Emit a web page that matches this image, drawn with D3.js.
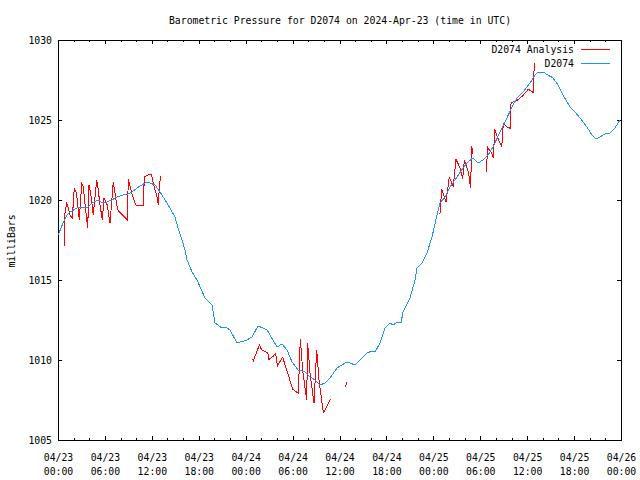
<!DOCTYPE html>
<html><head><meta charset="utf-8">
<script src="https://cdn.jsdelivr.net/npm/d3@7"></script>
<style>body{margin:0;background:#fff}</style>
</head><body>
<svg id="c" width="640" height="480"></svg>
<script>
const startDate = "2024-04-23T00:00:00Z";
const titleText = "Barometric Pressure for D2074 on 2024-Apr-23 (time in UTC)";
const yLabel = "milliBars";
const seriesNames = ["D2074 Analysis", "D2074"];
const yTicks = [1005, 1010, 1015, 1020, 1025, 1030];

// D2074 (hours since start, pressure)
const blueHours = [0,0.13,0.64,1.15,1.53,2.43,3.20,3.84,4.35,5.12,5.75,6.27,6.91,7.54,8.31,8.95,9.46,10.10,10.74,11.38,11.77,12.41,13.05,13.69,14.32,14.96,15.35,15.86,16.24,16.50,17.14,17.78,18.80,19.69,20.08,20.97,21.36,22.0,22.89,24.17,24.81,25.58,26.73,27.11,28.01,28.65,29.29,29.93,30.69,31.59,32.23,32.87,33.51,34.15,34.79,35.68,36.96,37.98,38.62,39.52,40.16,40.54,41.18,41.82,42.46,42.84,43.48,43.87,44.12,45.02,45.66,45.91,46.55,47.19,47.83,48.47,48.85,49.49,50.13,51.03,51.80,52.43,53.07,53.71,54.35,54.99,55.63,56.53,57.17,58.06,58.70,59.47,60.36,61.0,61.39,62.03,62.66,63.30,63.94,64.58,65.48,66.12,66.76,67.65,68.29,68.80,69.31,69.95,70.59,71.23,71.87];
const bluePressure = [1017.81,1017.94,1018.56,1019.06,1019.25,1019.5,1019.56,1019.56,1019.81,1020.0,1019.81,1019.88,1020.0,1020.19,1020.31,1020.38,1020.5,1020.75,1020.94,1021.13,1021.06,1020.94,1020.5,1020.0,1019.5,1018.94,1018.25,1017.5,1016.88,1016.25,1015.5,1015.0,1013.88,1013.44,1012.31,1012.0,1012.06,1011.88,1011.06,1011.25,1011.44,1012.13,1011.88,1011.56,1010.81,1011.0,1010.63,1009.88,1009.38,1009.25,1008.94,1008.75,1008.44,1008.56,1008.88,1009.5,1009.88,1009.69,1010.0,1010.44,1010.56,1010.5,1011.06,1012.0,1012.31,1012.19,1012.38,1012.31,1013.0,1013.88,1015.0,1015.75,1016.06,1016.69,1017.69,1019.06,1019.81,1020.19,1020.81,1021.44,1022.0,1022.38,1022.63,1022.31,1022.5,1022.81,1023.31,1024.25,1024.88,1025.81,1026.38,1026.75,1027.31,1027.81,1028.0,1028.0,1027.81,1027.63,1027.19,1026.56,1025.81,1025.5,1025.13,1024.56,1024.06,1023.81,1023.94,1024.13,1024.19,1024.5,1025.0];

// D2074 Analysis (null = gap in data)
const redHours = [0.81,0.90,1.11,1.32,1.53,1.83,2.08,2.30,2.47,2.72,3.03,3.24,3.45,3.80,3.96,4.18,4.51,4.95,5.15,5.37,5.67,5.88,6.30,6.65,7.07,7.42,7.63,8.86,8.99,9.43,9.94,10.91,11.04,11.77,11.98,12.19,12.70,12.83,12.96,13.13,
  null,
  24.77,24.98,25.75,26.05,26.47,26.82,26.98,27.54,27.84,28.05,28.73,29.25,30.01,30.73,30.99,31.29,31.80,31.93,32.23,32.74,33.08,33.38,33.93,34.36,34.87,
  null,
  36.70,37.00,
  null,
  48.85,49.07,49.30,49.62,50.04,50.30,50.55,50.90,51.16,51.41,51.76,51.96,52.22,52.50,52.76,52.91,53.07,
  null,
  54.83,54.90,55.16,55.47,55.67,55.85,56.11,56.44,56.75,56.95,57.39,57.81,57.94,58.66,59.09,59.51,60.15,60.79,60.91];
const redPressure = [1017.14,1019.27,1019.79,1019.48,1019.06,1018.86,1020.73,1020.52,1020.00,1018.75,1021.04,1020.83,1019.79,1018.23,1020.94,1020.42,1019.06,1021.25,1020.63,1019.69,1018.75,1020.11,1019.69,1018.54,1021.14,1020.00,1019.38,1018.75,1021.29,1020.42,1019.69,1019.63,1021.46,1021.63,1021.56,1021.04,1020.11,1019.69,1020.83,1021.50,
  null,
  1010.10,1009.96,1010.94,1010.63,1010.52,1010.46,1010.04,1010.25,1010.42,1009.63,1010.17,1009.38,1008.17,1007.92,1011.29,1009.38,1007.50,1011.04,1009.17,1007.29,1010.63,1008.75,1006.71,1007.08,1007.56,
  null,
  1008.29,1008.65,
  null,
  1019.13,1020.67,1020.38,1019.88,1021.42,1021.14,1020.83,1022.54,1022.28,1022.00,1021.33,1022.48,1022.11,1021.75,1020.73,1023.36,1022.88,
  null,
  1021.77,1023.33,1023.13,1022.92,1022.61,1024.42,1024.06,1023.64,1023.33,1024.79,1024.58,1024.48,1026.08,1026.21,1026.36,1026.56,1026.92,1026.71,1028.58];

const colors = {analysis: "#ff0000", obs: "#1e90ff"};
const font = "'DejaVu Sans Mono', 'Liberation Mono', monospace";

const t0 = new Date(startDate);
const toDate = h => new Date(t0.getTime() + h * 3600e3);

const svg = d3.select("#c");
const L = 58, R = 621, T = 40, B = 440;
const x = d3.scaleUtc().domain([t0, toDate(72)]).range([L, R]);
const y = d3.scaleLinear().domain([1005, 1030]).range([B, T]);

const majorX = x.ticks(d3.utcHour.every(6));
const minorX = x.ticks(d3.utcHour.every(2)).filter(d => d.getUTCHours() % 6 !== 0);

function styleAxis(g) {
  g.select(".domain").remove();
  g.selectAll("line").attr("stroke", "#000").attr("shape-rendering", "crispEdges");
  g.attr("font-family", font).attr("font-size", 9.8);
  g.selectAll("text").attr("fill", "#000");
}

// bottom axis
const gb = svg.append("g").attr("transform", `translate(0,${B})`)
  .call(d3.axisBottom(x).tickValues(majorX).tickSizeInner(-4).tickSizeOuter(0).tickPadding(0)
    .tickFormat(d3.utcFormat("%m/%d|%H:%M")));
styleAxis(gb);
gb.selectAll("text").each(function() {
  const parts = d3.select(this).text().split("|");
  const t = d3.select(this).text(null).attr("dy", null).attr("y", null);
  t.append("tspan").attr("x", 0).attr("y", 21).text(parts[0]);
  t.append("tspan").attr("x", 0).attr("y", 35).text(parts[1]);
});
const gbm = svg.append("g").attr("transform", `translate(0,${B})`)
  .call(d3.axisBottom(x).tickValues(minorX).tickSizeInner(-2).tickSizeOuter(0).tickFormat(""));
styleAxis(gbm);

// top axis
const gt = svg.append("g").attr("transform", `translate(0,${T})`)
  .call(d3.axisTop(x).tickValues(majorX).tickSizeInner(-4).tickSizeOuter(0).tickFormat(""));
styleAxis(gt);
const gtm = svg.append("g").attr("transform", `translate(0,${T})`)
  .call(d3.axisTop(x).tickValues(minorX).tickSizeInner(-2).tickSizeOuter(0).tickFormat(""));
styleAxis(gtm);

// left axis
const gl = svg.append("g").attr("transform", `translate(${L},0)`)
  .call(d3.axisLeft(y).tickValues(yTicks).tickSizeInner(-4).tickSizeOuter(0).tickPadding(6).tickFormat(d3.format("d")));
styleAxis(gl);
// right axis
const gr = svg.append("g").attr("transform", `translate(${R},0)`)
  .call(d3.axisRight(y).tickValues(yTicks).tickSizeInner(-4).tickSizeOuter(0).tickFormat(""));
styleAxis(gr);

// frame
svg.append("rect").attr("x", L + 0.5).attr("y", T + 0.5).attr("width", R - L).attr("height", B - T)
  .attr("fill", "none").attr("stroke", "#000").attr("shape-rendering", "crispEdges");

// clip
svg.append("clipPath").attr("id", "plot").append("rect")
  .attr("x", L).attr("y", T).attr("width", R - L + 1).attr("height", B - T + 1);

const line = d3.line()
  .defined(d => d.p != null && d.h != null)
  .x(d => x(toDate(d.h)))
  .y(d => y(d.p));

const blueData = blueHours.map((h, i) => ({h, p: bluePressure[i]}));
const redData = redHours.map((h, i) => ({h, p: redPressure[i]}));

const plot = svg.append("g").attr("clip-path", "url(#plot)");
plot.append("path").datum(redData).attr("d", line)
  .attr("fill", "none").attr("stroke", colors.analysis).attr("stroke-width", 1)
  .attr("shape-rendering", "crispEdges");
plot.append("path").datum(blueData).attr("d", line)
  .attr("fill", "none").attr("stroke", colors.obs).attr("stroke-width", 1)
  .attr("shape-rendering", "crispEdges");

// title
svg.append("text").attr("x", 340).attr("y", 24).attr("text-anchor", "middle")
  .attr("font-family", font).attr("font-size", 9.8).attr("fill", "#000").text(titleText);

// y label
svg.append("text").attr("transform", "translate(15,241) rotate(-90)").attr("text-anchor", "middle")
  .attr("font-family", font).attr("font-size", 9.8).attr("fill", "#000").text(yLabel);

// legend
const legend = svg.append("g");
[[seriesNames[0], colors.analysis], [seriesNames[1], colors.obs]].forEach((s, i) => {
  const yy = 49 + i * 14;
  legend.append("text").attr("x", 574).attr("y", yy + 4).attr("text-anchor", "end")
    .attr("font-family", font).attr("font-size", 9.8).attr("fill", "#000").text(s[0]);
  legend.append("line").attr("x1", 581).attr("x2", 610).attr("y1", yy + 0.5).attr("y2", yy + 0.5)
    .attr("stroke", s[1]).attr("stroke-width", 1).attr("shape-rendering", "crispEdges");
});
</script>
</body></html>
